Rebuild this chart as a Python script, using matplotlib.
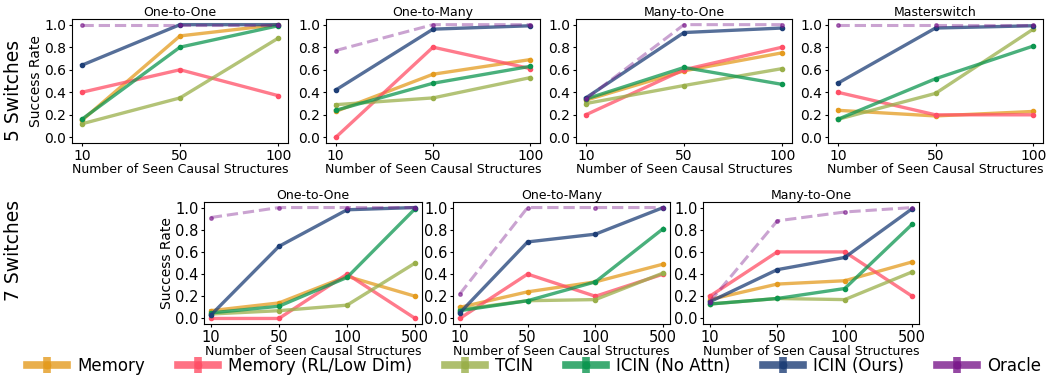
import matplotlib
matplotlib.use('Agg')
import matplotlib.pyplot as plt
from matplotlib.lines import Line2D

plt.rcParams['font.family'] = ['DejaVu Sans']

# 横轴类别
x_top = ['10', '50', '100']
x_bot = ['10', '50', '100', '500']

methods = ['Memory', 'Memory (RL/Low Dim)', 'TCIN', 'ICIN (No Attn)', 'ICIN (Ours)', 'Oracle']
colors = ['#E49B1F', '#FF4F66', '#9AAF4A', '#0D9650', '#1E3F77', '#7B1A8C']

titles_top = ['One-to-One', 'One-to-Many', 'Many-to-One', 'Masterswitch']
titles_bot = ['One-to-One', 'One-to-Many', 'Many-to-One']

# 5 switches: 每个子图按 methods 顺序
s5_one_to_one = [
    [0.15, 0.90, 1.00],
    [0.40, 0.60, 0.37],
    [0.12, 0.35, 0.88],
    [0.16, 0.80, 0.99],
    [0.64, 1.00, 1.00],
    [1.00, 1.00, 1.00],
]
s5_one_to_many = [
    [0.23, 0.56, 0.69],
    [0.00, 0.80, 0.61],
    [0.29, 0.35, 0.53],
    [0.24, 0.48, 0.63],
    [0.42, 0.96, 0.99],
    [0.77, 1.00, 1.00],
]
s5_many_to_one = [
    [0.33, 0.59, 0.75],
    [0.20, 0.60, 0.80],
    [0.30, 0.46, 0.61],
    [0.34, 0.62, 0.47],
    [0.35, 0.93, 0.97],
    [0.34, 1.00, 1.00],
]
s5_masterswitch = [
    [0.24, 0.19, 0.23],
    [0.40, 0.20, 0.20],
    [0.16, 0.39, 0.96],
    [0.16, 0.52, 0.81],
    [0.48, 0.97, 0.99],
    [1.00, 1.00, 1.00],
]

# 7 switches
s7_one_to_one = [
    [0.07, 0.14, 0.38, 0.20],
    [0.00, 0.00, 0.40, 0.00],
    [0.04, 0.07, 0.12, 0.50],
    [0.05, 0.11, 0.37, 0.99],
    [0.03, 0.65, 0.98, 1.00],
    [0.91, 1.00, 1.00, 1.00],
]
s7_one_to_many = [
    [0.10, 0.24, 0.33, 0.49],
    [0.00, 0.40, 0.20, 0.40],
    [0.08, 0.16, 0.17, 0.41],
    [0.07, 0.16, 0.33, 0.81],
    [0.05, 0.69, 0.76, 1.00],
    [0.22, 1.00, 1.00, 1.00],
]
s7_many_to_one = [
    [0.17, 0.31, 0.34, 0.51],
    [0.20, 0.60, 0.60, 0.20],
    [0.13, 0.18, 0.17, 0.42],
    [0.13, 0.18, 0.27, 0.85],
    [0.15, 0.44, 0.55, 0.99],
    [0.15, 0.88, 0.96, 1.00],
]

W, H = 1046, 377
fig = plt.figure(figsize=(W / 100, H / 100), dpi=100)


def px_axes(x0, x1, y0, y1):
    return fig.add_axes([x0 / W, 1 - y1 / H, (x1 - x0) / W, (y1 - y0) / H])


def draw(ax, xcats, series, title, ylabel, tsize):
    xs = list(range(len(xcats)))
    for i, vals in enumerate(series):
        if methods[i] == 'Oracle':
            ax.plot(xs, vals, color=colors[i], lw=2.2, ls='--', alpha=0.4, zorder=3)
            ax.plot(xs, vals, color=colors[i], lw=0, marker='o', markersize=2.5, alpha=0.6, zorder=3)
        else:
            ax.plot(xs, vals, color=colors[i], lw=2.4, alpha=0.75, zorder=2)
            ax.plot(xs, vals, color=colors[i], lw=0, marker='o', markersize=3, zorder=2)
    ax.set_xticks(xs)
    ax.set_xticklabels(xcats)
    ax.set_xlim(-0.1, len(xcats) - 0.9)
    ax.set_ylim(-0.05, 1.05)
    ax.set_yticks([0.0, 0.2, 0.4, 0.6, 0.8, 1.0])
    ax.tick_params(labelsize=tsize, pad=1.5, length=2.5)
    ax.set_title(title, fontsize=9, pad=2)
    ax.set_xlabel('Number of Seen Causal Structures', fontsize=9, labelpad=0)
    if ylabel:
        ax.set_ylabel('Success Rate', fontsize=10, labelpad=1)


top_data = [s5_one_to_one, s5_one_to_many, s5_many_to_one, s5_masterswitch]
top_pos = [(72, 288), (326, 540), (576, 792), (828, 1043)]
for j, (d, (x0, x1)) in enumerate(zip(top_data, top_pos)):
    ax = px_axes(x0, x1, 19, 143)
    draw(ax, x_top, d, titles_top[j], j == 0, 10)

bot_data = [s7_one_to_one, s7_one_to_many, s7_many_to_one]
bot_pos = [(204, 422), (453, 670), (703, 919)]
for j, (d, (x0, x1)) in enumerate(zip(bot_data, bot_pos)):
    ax = px_axes(x0, x1, 202, 324)
    draw(ax, x_bot, d, titles_bot[j], j == 0, 10.5)

fig.text(14 / W, 1 - 90 / H, '5 Switches', rotation=90, fontsize=13.5, ha='center', va='center')
fig.text(14 / W, 1 - 250 / H, '7 Switches', rotation=90, fontsize=13.5, ha='center', va='center')

# 图例
handles = []
for c in colors:
    bar = Line2D([], [], color=c, lw=5.5, alpha=0.8)
    vert = Line2D([], [], color=c, lw=0, marker='|', markersize=12, markeredgewidth=5.5, alpha=0.8)
    dot = Line2D([], [], color=c, lw=0, marker='o', markersize=4.5)
    handles.append((bar, vert, dot))
fig.legend(handles, methods, loc='center', bbox_to_anchor=(534 / W, 1 - 366 / H), ncol=6,
           frameon=False, fontsize=12, handlelength=2.4, handletextpad=0.6,
           columnspacing=1.97, borderaxespad=0, borderpad=0)

plt.savefig('out.png', dpi=100)
